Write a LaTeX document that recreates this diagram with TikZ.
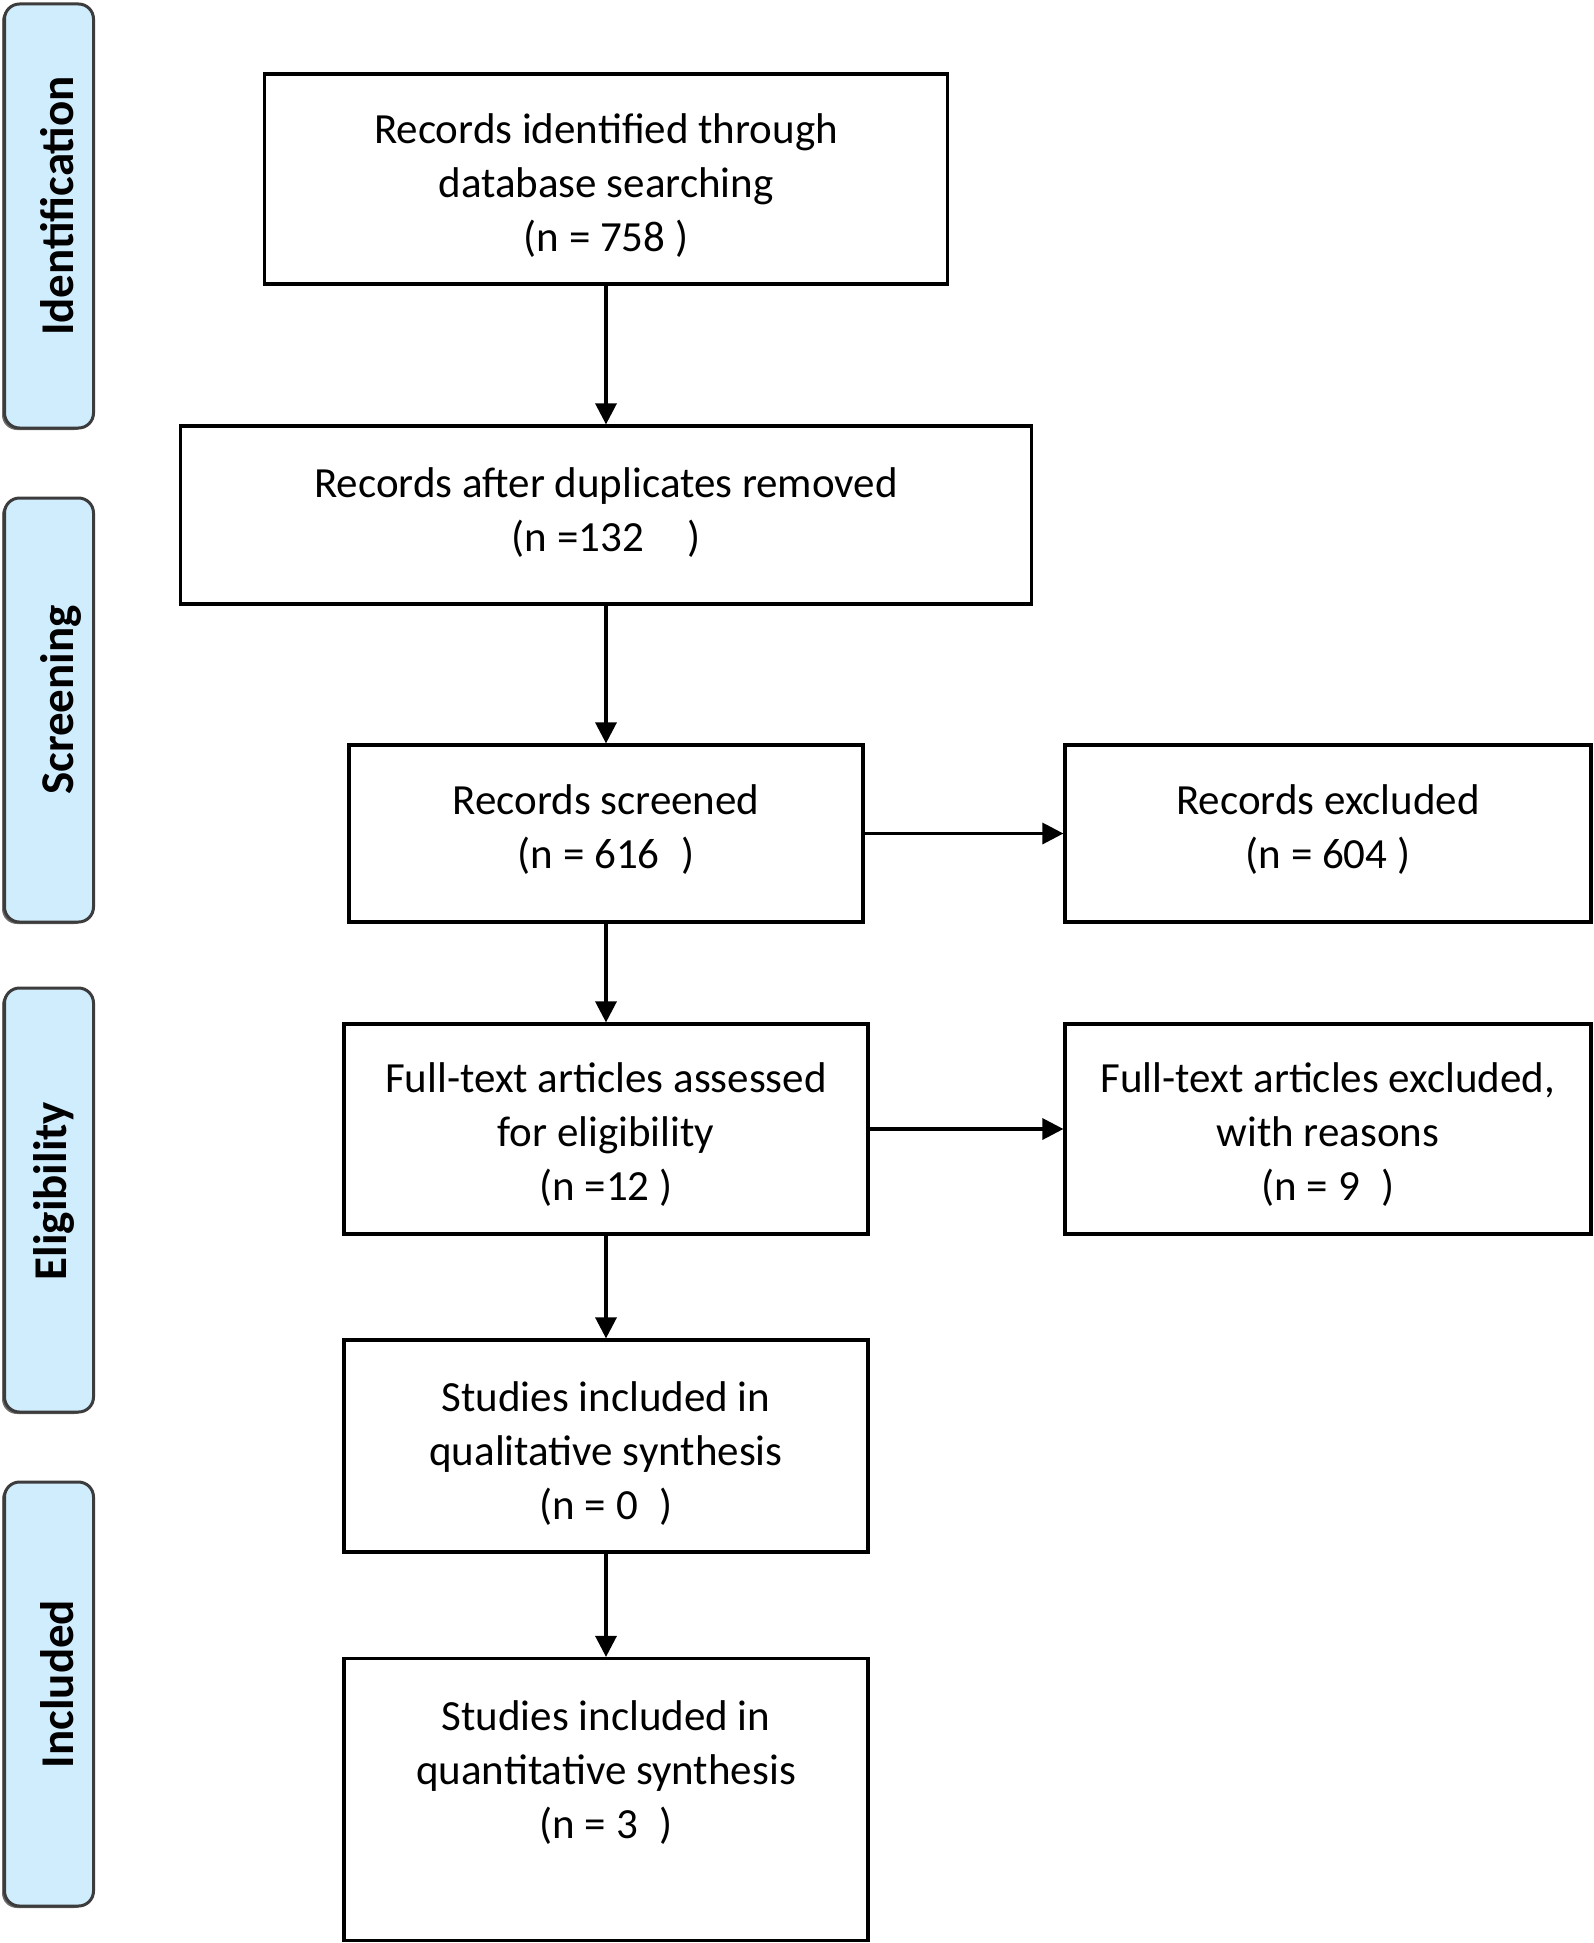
\documentclass[tikz,border=0pt]{standalone}
\usepackage{fontspec}
\setmainfont{Carlito}
\usetikzlibrary{arrows.meta}
\definecolor{sidefill}{RGB}{208,237,253}
\definecolor{sidedraw}{RGB}{60,60,60}
\definecolor{sideshadow}{RGB}{110,110,110}
\begin{document}
\begin{tikzpicture}[x=1pt,y=-1pt,
  box/.style={draw=black, line width=3.2pt, fill=white, inner sep=0pt},
  txt/.style={align=center, inner sep=0pt, font=\fontsize{43}{54}\selectfont},
  side/.style={draw=sidedraw, line width=3pt, fill=sidefill, rounded corners=15pt,
     minimum width=89pt, minimum height=424pt, inner sep=0pt},
  sidetxt/.style={rotate=90, anchor=base, inner sep=0pt,
     font=\fontsize{47}{54}\selectfont\bfseries},
  arr/.style={line width=3.3pt, -{Triangle[length=21pt,width=21pt]}}]
\useasboundingbox (0,0) rectangle (1594,1943);
\fill[white] (0,0) rectangle (1594,1943);
% side labels
\foreach \yc in {216,710,1200,1694}
  \fill[sideshadow, rounded corners=15pt] (2,\yc-210) rectangle (89,\yc+214);
\node[side] (sid) at (49,216) {};
\node[side] (ssc) at (49,710) {};
\node[side] (sel) at (49,1200) {};
\node[side] (sin) at (49,1694) {};
\node[sidetxt] (sidt) at (73,206) {Identification};
\node[sidetxt] (ssct) at (73,700) {Screening};
\node[sidetxt] (selt) at (66,1191) {Eligibility};
\node[sidetxt] (sint) at (73,1684) {Included};
% main boxes
\node[box, minimum width=683pt, minimum height=210pt] (b1) at (606,179) {};
\node[txt] (b1t) at ([yshift=-7pt]b1.center)
  {Records identified through\\database searching\\(n = 758 )};
\node[box, minimum width=851pt, minimum height=178pt] (b2) at (606,515) {};
\node[txt] (b2t) at ([yshift=2.5pt]b2.center)
  {Records after duplicates removed\\(n =132\quad)};
\node[box, minimum width=514pt, minimum height=177pt] (b3) at (606,833.5) {};
\node[txt] (b3t) at ([yshift=4pt]b3.center)
  {Records screened\\(n = 616\enspace)};
\node[box, minimum width=526pt, minimum height=177pt] (b3x) at (1328,833.5) {};
\node[txt] (b3xt) at ([yshift=4pt]b3x.center)
  {Records excluded\\(n = 604 )};
\node[box, minimum width=524pt, minimum height=210pt] (b4) at (606,1129) {};
\node[txt] (b4t) at ([yshift=-6pt]b4.center)
  {Full-text articles assessed\\for eligibility\\(n =12 )};
\node[box, minimum width=526pt, minimum height=210pt] (b4x) at (1328,1129) {};
\node[txt] (b4xt) at ([yshift=-6pt]b4x.center)
  {Full-text articles excluded,\\with reasons\\(n = 9\enspace)};
\node[box, minimum width=524pt, minimum height=212pt] (b5) at (606,1446) {};
\node[txt] (b5t) at ([yshift=-8pt]b5.center)
  {Studies included in\\qualitative synthesis\\(n = 0\enspace)};
\node[box, minimum width=524pt, minimum height=282pt] (b6) at (606,1799.5) {};
\node[txt, anchor=north] (b6t) at ([yshift=-44pt]b6.north)
  {Studies included in\\quantitative synthesis\\(n = 3\enspace)};
% connectors
\draw[arr] (b1.south) -- (b2.north);
\draw[arr] (b2.south) -- (b3.north);
\draw[arr] (b3.south) -- (b4.north);
\draw[arr] (b4.south) -- (b5.north);
\draw[arr] (b5.south) -- (b6.north);
\draw[arr] (b3.east) -- (b3x.west);
\draw[arr] (b4.east) -- (b4x.west);
\end{tikzpicture}
\end{document}
